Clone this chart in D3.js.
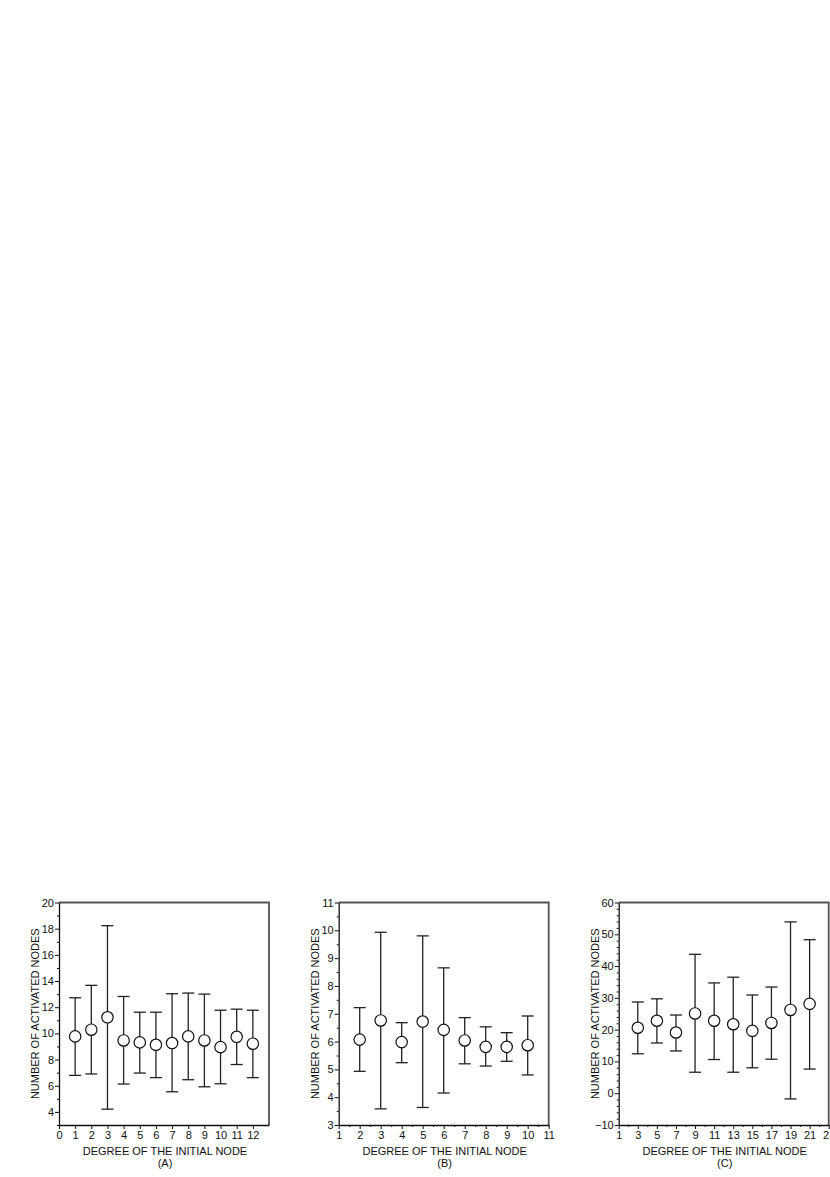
<!DOCTYPE html>
<html>
<head>
<meta charset="utf-8">
<script src="https://cdn.jsdelivr.net/npm/d3@7"></script>
<style>
  body { margin: 0; background: #fff; }
  svg { display: block; }
  text { font-family: "Liberation Sans", Arial, sans-serif; fill: #111; }
</style>
</head>
<body>
<div id="container"></div>
<script>
// panel A
const degA = [1, 2, 3, 4, 5, 6, 7, 8, 9, 10, 11, 12];
const meanA = [9.77, 10.28, 11.23, 9.46, 9.31, 9.13, 9.26, 9.77, 9.46, 8.95, 9.74, 9.21];
const hiA = [12.72, 13.67, 18.23, 12.82, 11.62, 11.62, 13.03, 13.08, 13.0, 11.77, 11.85, 11.77];
const loA = [6.79, 6.9, 4.21, 6.13, 6.97, 6.62, 5.54, 6.46, 5.92, 6.15, 7.62, 6.62];

// panel B
const degB = [2, 3, 4, 5, 6, 7, 8, 9, 10];
const meanB = [6.07, 6.76, 5.98, 6.72, 6.42, 6.04, 5.81, 5.81, 5.87];
const hiB = [7.22, 9.93, 6.68, 9.80, 8.65, 6.86, 6.53, 6.32, 6.92];
const loB = [4.93, 3.58, 5.24, 3.63, 4.15, 5.2, 5.12, 5.29, 4.8];

// panel C
const degC = [3, 5, 7, 9, 11, 13, 15, 17, 19, 21];
const meanC = [20.6, 22.8, 19.1, 25.1, 22.8, 21.7, 19.6, 22.1, 26.2, 28.1];
const hiC = [28.7, 29.7, 24.6, 43.7, 34.7, 36.5, 30.9, 33.4, 53.9, 48.3];
const loC = [12.4, 15.8, 13.3, 6.6, 10.6, 6.6, 8.0, 10.7, -1.8, 7.6];

const yLabel = "NUMBER OF ACTIVATED NODES";
const xLabel = "DEGREE OF THE INITIAL NODE";

const W = 830, H = 1177;
const plotTop = 902.5, plotBottom = 1125, pw = 210;

const svg = d3.select("#container").append("svg")
  .attr("width", W).attr("height", H);

const panels = [
  { left: 59, deg: degA, mean: meanA, hi: hiA, lo: loA, tag: "(A)",
    xd: [0, 13], xMajor: d3.range(0, 13, 1), xMinor: [],
    yd: [3, 20], yMajor: d3.range(4, 21, 2), yMinor: d3.range(3, 20, 2) },
  { left: 338.7, deg: degB, mean: meanB, hi: hiB, lo: loB, tag: "(B)",
    xd: [1, 11], xMajor: d3.range(1, 12, 1), xMinor: d3.range(1.5, 11, 1),
    yd: [3, 11], yMajor: d3.range(3, 12, 1), yMinor: d3.range(3.5, 11, 1) },
  { left: 618.7, deg: degC, mean: meanC, hi: hiC, lo: loC, tag: "(C)",
    xd: [1, 23], xMajor: d3.range(1, 24, 2), xMinor: d3.range(2, 23, 2),
    yd: [-10, 60], yMajor: d3.range(-10, 61, 10), yMinor: d3.range(-8, 60, 2).filter(v => v % 10 !== 0) }
];

panels.forEach(p => {
  const x = d3.scaleLinear().domain(p.xd).range([p.left, p.left + pw]);
  const y = d3.scaleLinear().domain(p.yd).range([plotBottom, plotTop]);
  const g = svg.append("g");

  // frame (top and right)
  g.append("path")
    .attr("d", `M${p.left},${plotTop}H${p.left + pw}V${plotBottom}`)
    .attr("fill", "none").attr("stroke", "#555").attr("stroke-width", 1.8);

  // axes
  g.append("g").attr("transform", `translate(0,${plotBottom})`)
    .call(d3.axisBottom(x).tickValues(p.xMajor).tickSize(4).tickSizeOuter(0).tickPadding(2).tickFormat(d3.format("d")));
  g.append("g").attr("transform", `translate(${p.left},0)`)
    .call(d3.axisLeft(y).tickValues(p.yMajor).tickSize(4).tickSizeOuter(0).tickPadding(1).tickFormat(d3.format("d")));
  g.append("g").attr("transform", `translate(0,${plotBottom})`)
    .call(d3.axisBottom(x).tickValues(p.xMinor).tickSize(2).tickSizeOuter(0).tickFormat(""))
    .select(".domain").remove();
  g.append("g").attr("transform", `translate(${p.left},0)`)
    .call(d3.axisLeft(y).tickValues(p.yMinor).tickSize(2).tickSizeOuter(0).tickFormat(""))
    .select(".domain").remove();

  g.selectAll(".domain").attr("stroke", "#111").attr("stroke-width", 1.3);
  g.selectAll(".tick line").attr("stroke", "#111").attr("stroke-width", 1);
  g.selectAll(".tick text").style("font-size", "11px").attr("fill", "#111")
    .style("font-family", "'Liberation Sans', Arial, sans-serif");

  // error bars
  const pts = p.deg.map((d, i) => ({ d: d, m: p.mean[i], hi: p.hi[i], lo: p.lo[i] }));
  const bars = g.append("g").selectAll("g").data(pts).enter().append("g")
    .attr("stroke", "#222").attr("stroke-width", 1.3).attr("fill", "none");
  bars.append("line")
    .attr("x1", d => x(d.d)).attr("x2", d => x(d.d))
    .attr("y1", d => y(d.hi)).attr("y2", d => y(d.lo));
  bars.append("line")
    .attr("x1", d => x(d.d) - 6).attr("x2", d => x(d.d) + 6)
    .attr("y1", d => y(d.hi)).attr("y2", d => y(d.hi));
  bars.append("line")
    .attr("x1", d => x(d.d) - 6).attr("x2", d => x(d.d) + 6)
    .attr("y1", d => y(d.lo)).attr("y2", d => y(d.lo));
  bars.append("circle")
    .attr("cx", d => x(d.d)).attr("cy", d => y(d.m)).attr("r", 5.7)
    .attr("fill", "#fff").attr("stroke", "#111").attr("stroke-width", 1.2);

  // labels
  const cx = p.left + pw / 2;
  g.append("text")
    .attr("transform", `translate(${p.left - 20},${(plotTop + plotBottom) / 2}) rotate(-90)`)
    .attr("text-anchor", "middle").style("font-size", "11px")
    .text(yLabel);
  g.append("text").attr("x", cx + 1).attr("y", 1155)
    .attr("text-anchor", "middle").style("font-size", "11px").text(xLabel);
  g.append("text").attr("x", cx + 1).attr("y", 1167)
    .attr("text-anchor", "middle").style("font-size", "11px").text(p.tag);
});
</script>
</body>
</html>
